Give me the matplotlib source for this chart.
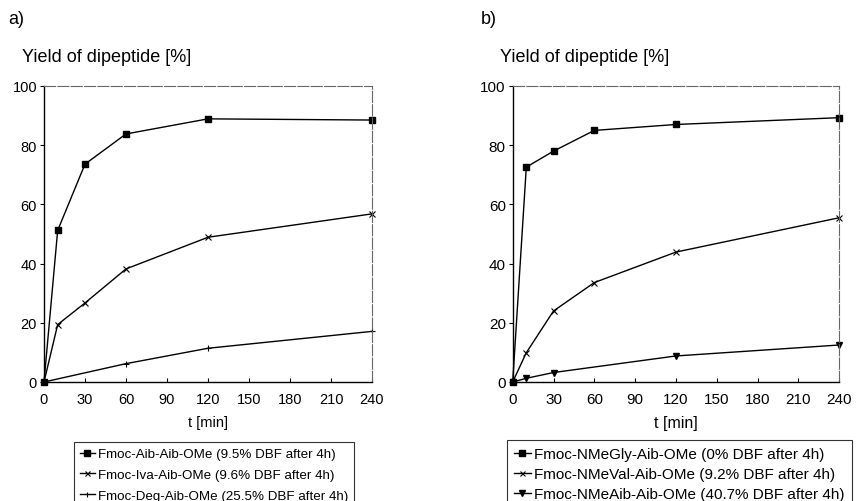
import matplotlib
matplotlib.use("Agg")
import matplotlib.pyplot as plt

plt.rcParams['font.family'] = ['Liberation Sans', 'DejaVu Sans']

# Panel a)
t_a1 = [0, 10, 30, 60, 120, 240]
y_a1 = [0, 51.2, 73.6, 83.8, 88.9, 88.5]
t_a2 = [0, 10, 30, 60, 120, 240]
y_a2 = [0, 19.4, 26.7, 38.2, 48.9, 56.8]
t_a3 = [0, 60, 120, 240]
y_a3 = [0, 6.2, 11.4, 17.1]
labels_a = ["Fmoc-Aib-Aib-OMe (9.5% DBF after 4h)",
            "Fmoc-Iva-Aib-OMe (9.6% DBF after 4h)",
            "Fmoc-Deg-Aib-OMe (25.5% DBF after 4h)"]

# Panel b)
t_b1 = [0, 10, 30, 60, 120, 240]
y_b1 = [0, 72.6, 78.0, 85.0, 87.0, 89.3]
t_b2 = [0, 10, 30, 60, 120, 240]
y_b2 = [0, 9.9, 24.0, 33.6, 43.9, 55.5]
t_b3 = [0, 10, 30, 120, 240]
y_b3 = [0, 1.25, 3.2, 8.8, 12.5]
labels_b = ["Fmoc-NMeGly-Aib-OMe (0% DBF after 4h)",
            "Fmoc-NMeVal-Aib-OMe (9.2% DBF after 4h)",
            "Fmoc-NMeAib-Aib-OMe (40.7% DBF after 4h)"]

xticks = [0, 30, 60, 90, 120, 150, 180, 210, 240]
yticks = [0, 20, 40, 60, 80, 100]

fig = plt.figure(figsize=(8.56, 5.02), dpi=100)
W, H = 856, 502

def make_axes(x0, x1, y_top, y_bot):
    return fig.add_axes([x0 / W, (H - y_bot) / H, (x1 - x0) / W, (y_bot - y_top) / H])

axa = make_axes(44, 372, 87, 383)
axb = make_axes(512.7, 839.3, 87, 383)

def style(ax, fs_tick, fs_xlab):
    ax.set_xlim(0, 240)
    ax.set_ylim(0, 100)
    ax.set_xticks(xticks)
    ax.set_yticks(yticks)
    ax.tick_params(axis='x', direction='in', length=3, width=0.8, labelsize=fs_tick, pad=7)
    ax.tick_params(axis='y', direction='out', length=3, width=0.8, labelsize=fs_tick, pad=2)
    for s in ['left', 'bottom']:
        ax.spines[s].set_linewidth(1.0)
        ax.spines[s].set_color('black')
    for s in ['top', 'right']:
        ax.spines[s].set_linewidth(0.8)
        ax.spines[s].set_color('#666666')
        ax.spines[s].set_linestyle((0, (10, 2)))
    ax.set_xlabel("t [min]", fontsize=fs_xlab, labelpad=7)

lw = 1.0
la1, = axa.plot(t_a1, y_a1, color='black', lw=lw, marker='s', ms=4.5, mfc='black', label=labels_a[0], clip_on=False)
la2, = axa.plot(t_a2, y_a2, color='black', lw=lw, marker='x', ms=4, mew=0.8, label=labels_a[1], clip_on=False)
la3, = axa.plot(t_a3, y_a3, color='black', lw=lw, marker='+', ms=4, mew=0.8, label=labels_a[2], clip_on=False)

lb1, = axb.plot(t_b1, y_b1, color='black', lw=lw, marker='s', ms=4.5, mfc='black', label=labels_b[0], clip_on=False)
lb2, = axb.plot(t_b2, y_b2, color='black', lw=lw, marker='x', ms=4, mew=0.8, label=labels_b[1], clip_on=False)
lb3, = axb.plot(t_b3, y_b3, color='black', lw=lw, marker='v', ms=4.5, mfc='black', label=labels_b[2], clip_on=False)

style(axa, 10.5, 10.5)
style(axb, 11.0, 11.5)

fig.text(8 / W, 1 - 20 / H, "a)", fontsize=13, va='center', ha='left')
fig.text(481 / W, 1 - 20 / H, "b)", fontsize=13, va='center', ha='left')
fig.text(22 / W, 1 - 58 / H, "Yield of dipeptide [%]", fontsize=13, va='center', ha='left')
fig.text(500 / W, 1 - 58 / H, "Yield of dipeptide [%]", fontsize=13, va='center', ha='left')

def add_legend(ax, handles, labels, x0, y0, fs, spacing):
    leg = ax.legend(handles, labels, loc='upper left',
                    bbox_to_anchor=(x0 / W, 1 - y0 / H), bbox_transform=fig.transFigure,
                    fontsize=fs, frameon=True, fancybox=False, handlelength=1.1,
                    handletextpad=0.25, borderpad=0.45, labelspacing=spacing,
                    borderaxespad=0, markerscale=0.9)
    leg.get_frame().set_edgecolor('black')
    leg.get_frame().set_linewidth(0.8)
    return leg

add_legend(axa, [la1, la2, la3], labels_a, 74, 443, 9.6, 0.62)
add_legend(axb, [lb1, lb2, lb3], labels_b, 507, 441, 11.0, 0.4)

fig.savefig("out.png", dpi=100)
